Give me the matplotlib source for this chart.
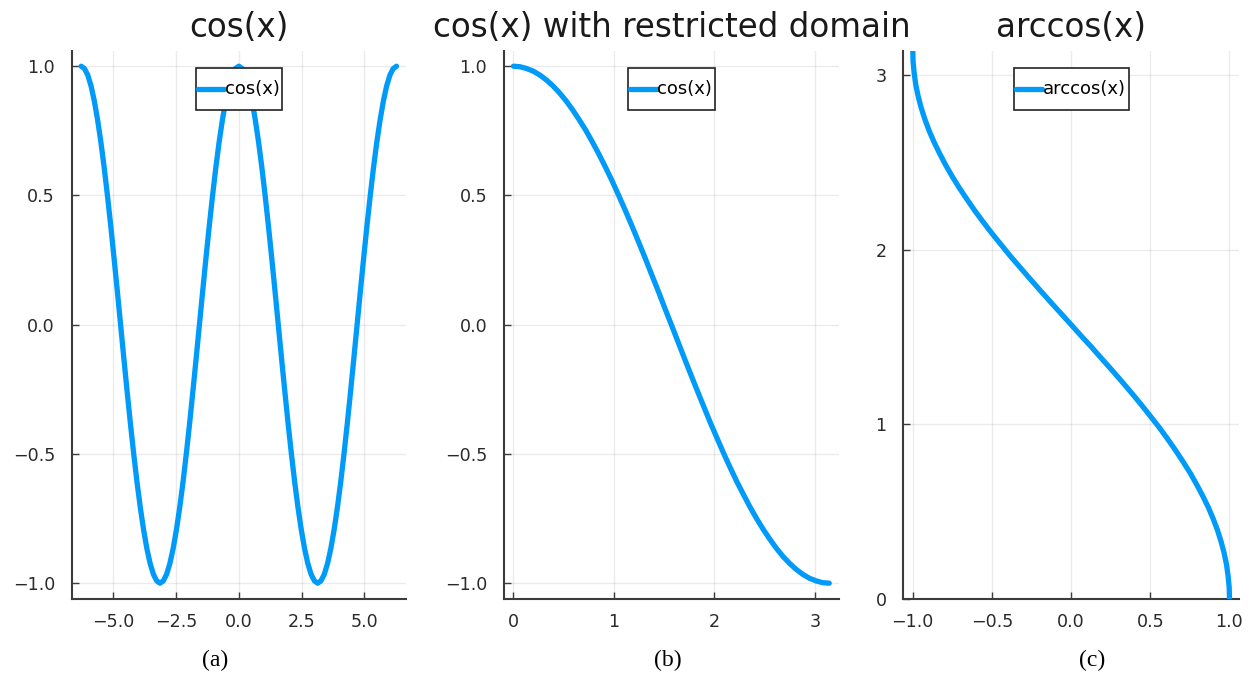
import matplotlib.pyplot as plt
from matplotlib.offsetbox import DrawingArea, HPacker

# panel (a): cos(x) on [-2pi, 2pi], read every pi/24
cos_x = [-6.283, -6.152, -6.021, -5.890, -5.760, -5.629, -5.498, -5.367,
         -5.236, -5.105, -4.974, -4.843, -4.712, -4.581, -4.451, -4.320,
         -4.189, -4.058, -3.927, -3.796, -3.665, -3.534, -3.403, -3.272,
         -3.142, -3.011, -2.880, -2.749, -2.618, -2.487, -2.356, -2.225,
         -2.094, -1.963, -1.833, -1.702, -1.571, -1.440, -1.309, -1.178,
         -1.047, -0.916, -0.785, -0.654, -0.524, -0.393, -0.262, -0.131,
         0.000,
         0.131, 0.262, 0.393, 0.524, 0.654, 0.785, 0.916, 1.047,
         1.178, 1.309, 1.440, 1.571, 1.702, 1.833, 1.963, 2.094,
         2.225, 2.356, 2.487, 2.618, 2.749, 2.880, 3.011, 3.142,
         3.272, 3.403, 3.534, 3.665, 3.796, 3.927, 4.058, 4.189,
         4.320, 4.451, 4.581, 4.712, 4.843, 4.974, 5.105, 5.236,
         5.367, 5.498, 5.629, 5.760, 5.890, 6.021, 6.152, 6.283]
cos_y = [1.000, 0.991, 0.966, 0.924, 0.866, 0.793, 0.707, 0.609,
         0.500, 0.383, 0.259, 0.131, 0.000, -0.131, -0.259, -0.383,
         -0.500, -0.609, -0.707, -0.793, -0.866, -0.924, -0.966, -0.991,
         -1.000, -0.991, -0.966, -0.924, -0.866, -0.793, -0.707, -0.609,
         -0.500, -0.383, -0.259, -0.131, 0.000, 0.131, 0.259, 0.383,
         0.500, 0.609, 0.707, 0.793, 0.866, 0.924, 0.966, 0.991,
         1.000,
         0.991, 0.966, 0.924, 0.866, 0.793, 0.707, 0.609, 0.500,
         0.383, 0.259, 0.131, 0.000, -0.131, -0.259, -0.383, -0.500,
         -0.609, -0.707, -0.793, -0.866, -0.924, -0.966, -0.991, -1.000,
         -0.991, -0.966, -0.924, -0.866, -0.793, -0.707, -0.609, -0.500,
         -0.383, -0.259, -0.131, 0.000, 0.131, 0.259, 0.383, 0.500,
         0.609, 0.707, 0.793, 0.866, 0.924, 0.966, 0.991, 1.000]

# panel (b): cos(x) on [0, pi], every pi/48
rcos_x = [0.000, 0.065, 0.131, 0.196, 0.262, 0.327, 0.393, 0.458, 0.524,
          0.589, 0.654, 0.720, 0.785, 0.851, 0.916, 0.982, 1.047, 1.113,
          1.178, 1.244, 1.309, 1.374, 1.440, 1.505, 1.571, 1.636, 1.702,
          1.767, 1.833, 1.898, 1.963, 2.029, 2.094, 2.160, 2.225, 2.291,
          2.356, 2.422, 2.487, 2.553, 2.618, 2.683, 2.749, 2.814, 2.880,
          2.945, 3.011, 3.076, 3.142]
rcos_y = [1.000, 0.998, 0.991, 0.981, 0.966, 0.947, 0.924, 0.897, 0.866,
          0.831, 0.793, 0.752, 0.707, 0.659, 0.609, 0.556, 0.500, 0.442,
          0.383, 0.321, 0.259, 0.195, 0.131, 0.065, 0.000, -0.065, -0.131,
          -0.195, -0.259, -0.321, -0.383, -0.442, -0.500, -0.556, -0.609, -0.659,
          -0.707, -0.752, -0.793, -0.831, -0.866, -0.897, -0.924, -0.947, -0.966,
          -0.981, -0.991, -0.998, -1.000]

# panel (c): arccos(x) on [-1, 1]
acos_x = [-1.000, -0.998, -0.991, -0.981, -0.966, -0.947, -0.924, -0.897,
          -0.866, -0.831, -0.793, -0.752, -0.707, -0.659, -0.609, -0.556,
          -0.500, -0.442, -0.383, -0.321, -0.259, -0.195, -0.131, -0.065,
          0.000, 0.065, 0.131, 0.195, 0.259, 0.321, 0.383, 0.442, 0.500,
          0.556, 0.609, 0.659, 0.707, 0.752, 0.793, 0.831, 0.866, 0.897,
          0.924, 0.947, 0.966, 0.981, 0.991, 0.998, 1.000]
acos_y = [3.142, 3.076, 3.011, 2.945, 2.880, 2.814, 2.749, 2.683, 2.618,
          2.553, 2.487, 2.422, 2.356, 2.291, 2.225, 2.160, 2.094, 2.029,
          1.963, 1.898, 1.833, 1.767, 1.702, 1.636, 1.571, 1.505, 1.440,
          1.374, 1.309, 1.244, 1.178, 1.113, 1.047, 0.982, 0.916, 0.851,
          0.785, 0.720, 0.654, 0.589, 0.524, 0.458, 0.393, 0.327, 0.262,
          0.196, 0.131, 0.065, 0.000]

titles = ["cos(x)", "cos(x) with restricted domain", "arccos(x)"]
labels = ["cos(x)", "cos(x)", "arccos(x)"]
captions = ["(a)", "(b)", "(c)"]
xticks = [[-5.0, -2.5, 0.0, 2.5, 5.0], [0, 1, 2, 3], [-1.0, -0.5, 0.0, 0.5, 1.0]]
yticks = [[-1.0, -0.5, 0.0, 0.5, 1.0], [-1.0, -0.5, 0.0, 0.5, 1.0], [0, 1, 2, 3]]
xlims = [(-6.66, 6.66), (-0.094, 3.236), (-1.06, 1.06)]
ylims = [(-1.06, 1.06), (-1.06, 1.06), (0, 3.1416)]
xs = [cos_x, rcos_x, acos_x]
ys = [cos_y, rcos_y, acos_y]

blue = "#009af9"
axcol = "#3c3c3c"

fig = plt.figure(figsize=(12.48, 6.73), dpi=100)
boxes = [(71.7, 406.0), (504.0, 838.7), (903.3, 1239.0)]
cap_x = [215, 667.5, 1092]

for i in range(3):
    l, r = boxes[i]
    ax = fig.add_axes([l / 1248, 1 - 598.7 / 673, (r - l) / 1248, 548.0 / 673])
    ax.plot(xs[i], ys[i], color=blue, lw=3.8, label=labels[i],
            solid_capstyle="round", solid_joinstyle="round", zorder=3)
    ax.set_xlim(*xlims[i])
    ax.set_ylim(*ylims[i])
    ax.set_xticks(xticks[i])
    ax.set_yticks(yticks[i])
    ax.grid(True, color="black", alpha=0.08, lw=1.0)
    for s in ["top", "right"]:
        ax.spines[s].set_visible(False)
    for s in ["left", "bottom"]:
        ax.spines[s].set_color(axcol)
        ax.spines[s].set_linewidth(1.5)
    ax.tick_params(direction="in", length=5, width=1.0, color=axcol,
                   labelsize=12.6, labelcolor="#2a2a2a")
    ax.tick_params(axis="x", pad=10)
    ax.tick_params(axis="y", pad=12)
    ax.set_title(titles[i], fontsize=23.5, pad=10, color="#1a1a1a")

    leg = ax.legend(loc="upper center", fontsize=13, handlelength=1.45,
                    handletextpad=0.05, borderpad=0.13, borderaxespad=0.97,
                    handleheight=2.78, fancybox=False, framealpha=1.0,
                    edgecolor="#222222")
    leg.get_frame().set_linewidth(1.2)
    # center the handle line and the label text in the tall box
    for da in leg.findobj(DrawingArea):
        da.ydescent = da.ydescent / 2
    for hp in leg.findobj(HPacker):
        if len(hp.get_children()) == 2:
            hp.align = "center"

    fig.text(cap_x[i] / 1248, 1 - 660 / 673, captions[i], ha="center",
             va="center", fontsize=17, family="Liberation Serif")

fig.savefig("out.png", dpi=100)
